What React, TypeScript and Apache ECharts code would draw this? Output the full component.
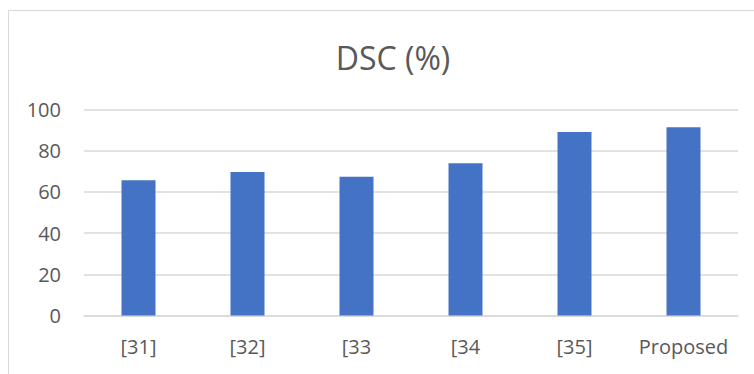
import React, { useEffect, useRef } from "react";
import * as echarts from "echarts";

const categories = ["[31]", "[32]", "[33", "[34", "[35]", "Proposed"];
const dscValues = [65.6, 69.6, 67.3, 73.8, 89.0, 91.3];
const yTicks = { min: 0, max: 100, interval: 20 };

const FONT = "'Open Sans', 'Noto Sans', sans-serif";
const TEXT_COLOR = "#595959";
const LINE_COLOR = "#d9d9d9";
const BAR_COLOR = "#4472C4";

export default function App() {
  const ref = useRef<HTMLDivElement | null>(null);

  useEffect(() => {
    document.body.style.margin = "0";
    if (!ref.current) return;
    const chart = echarts.init(ref.current, undefined, { renderer: "svg" });
    chart.setOption({
      animation: false,
      backgroundColor: "#ffffff",
      title: {
        text: "DSC (%)",
        left: 388,
        top: 36,
        textAlign: "center",
        textStyle: {
          fontFamily: FONT,
          fontSize: 32,
          fontWeight: "normal",
          color: TEXT_COLOR,
        },
      },
      graphic: [
        {
          type: "rect",
          shape: { x: 8.5, y: 10.5, width: 800, height: 420 },
          style: { fill: "none", stroke: LINE_COLOR, lineWidth: 1 },
          silent: true,
        },
      ],
      grid: { left: 84, right: 16, top: 109.3, bottom: 58.5 },
      xAxis: {
        type: "category",
        data: categories,
        axisLine: { lineStyle: { color: LINE_COLOR, width: 1.5 } },
        axisTick: { show: false },
        axisLabel: {
          interval: 0,
          fontFamily: FONT,
          fontSize: 20,
          color: TEXT_COLOR,
          margin: 21,
        },
      },
      yAxis: {
        type: "value",
        min: yTicks.min,
        max: yTicks.max,
        interval: yTicks.interval,
        axisLine: { show: false },
        axisTick: { show: false },
        splitLine: { lineStyle: { color: LINE_COLOR, width: 1.5 } },
        axisLabel: {
          fontFamily: FONT,
          fontSize: 20,
          color: TEXT_COLOR,
          margin: 23,
        },
      },
      series: [
        {
          type: "bar",
          data: dscValues,
          barWidth: 34,
          itemStyle: { color: BAR_COLOR },
        },
      ],
    });
    return () => chart.dispose();
  }, []);

  return <div ref={ref} style={{ width: 754, height: 374 }} />;
}
